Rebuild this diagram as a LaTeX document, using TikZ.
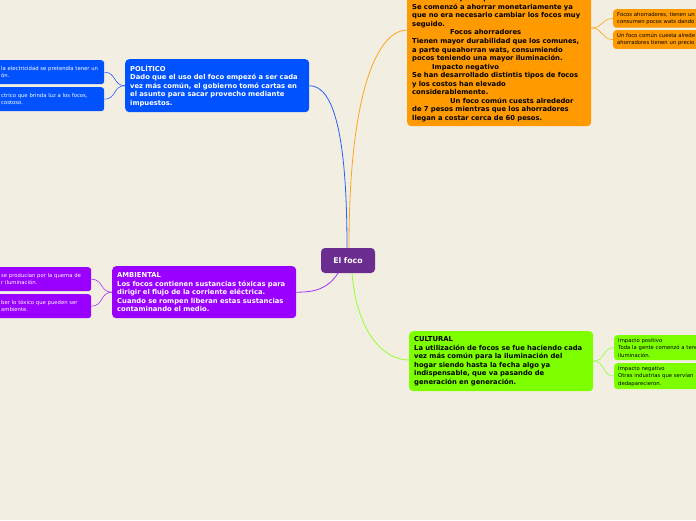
\documentclass[tikz,border=0pt]{standalone}
\usepackage{fontspec}
\setmainfont{DejaVu Sans}
\usetikzlibrary{calc}
\definecolor{Fondo}{HTML}{F2EFE2}
\definecolor{Centro}{HTML}{6B2D8F}
\definecolor{Azul}{HTML}{0052FF}
\definecolor{Morado}{HTML}{9A00FF}
\definecolor{Naranja}{HTML}{FF9A00}
\definecolor{Verde}{HTML}{7DFF00}
\definecolor{LineaAzul}{HTML}{2A5CFF}
\definecolor{LineaMorado}{HTML}{A531F5}
\definecolor{LineaNaranja}{HTML}{FFA41E}
\definecolor{LineaVerde}{HTML}{93FF2E}

\begin{document}
\begin{tikzpicture}[x=1pt,y=-1pt,
  tema/.style={rounded corners=4pt,anchor=north west,align=left,inner xsep=5pt,inner ysep=4pt,
    font=\bfseries\fontsize{6.8}{8.55}\selectfont},
  sub/.style={rounded corners=3pt,anchor=north west,align=left,inner xsep=4pt,inner ysep=3pt,
    font=\fontsize{5.3}{7.4}\selectfont,minimum height=24pt},
  rama/.style={line width=0.8pt},
  ramita/.style={line width=0.6pt}]
  \fill[Fondo] (0,0) rectangle (696,520);
  \clip (0,0) rectangle (696,520);
  % central
  \node[fill=Centro,text=white,rounded corners=4pt,minimum width=54pt,minimum height=25pt,
    font=\bfseries\fontsize{7.8}{9}\selectfont] (foco) at (348,260.5) {El foco};
  % politico
  \node[tema,fill=Azul,text=white,text width=174pt,minimum height=53pt] (pol) at (125,59)
    {POLÍTICO\\Dado que el uso del foco empezó a ser cada\\vez más común, el gobierno tomó cartas en\\el asunto para sacar provecho mediante\\impuestos.};
  \node[sub,fill=Azul,text=white,text width=99pt] (pol1) at (-3,60) {la electricidad se pretendía tener un\\ón.};
  \node[sub,fill=Azul,text=white,text width=99pt] (pol2) at (-3,87) {ctrico que brinda luz a los focos,\\costoso.};
  % ambiental
  \node[tema,fill=Morado,text=white,text width=174pt,minimum height=52pt] (amb) at (112,266)
    {AMBIENTAL\\Los focos contienen sustancias tóxicas para\\dirigir el flujo de la corriente eléctrica.\\Cuando se rompen liberan estas sustancias\\contaminando el medio.};
  \node[sub,fill=Morado,text=white,text width=86pt] (amb1) at (-3,267) {se producían por la quema de\\r iluminación.};
  \node[sub,fill=Morado,text=white,text width=86pt] (amb2) at (-3,294) {ber lo tóxico que pueden ser\\ambiente.};
  % economico
  \node[tema,fill=Naranja,text=black,text width=174pt,minimum height=135pt] (eco) at (407,-9)
    {\hspace*{38pt}Impacto positivo\\Se comenzó a ahorrar monetariamente ya\\que no era necesario cambiar los focos muy\\seguido.\\\hspace*{38pt}Focos ahorradores\\Tienen mayor durabilidad que los comunes,\\a parte queahorran wats, consumiendo\\pocos teniendo una mayor iluminación.\\\hspace*{20pt}Impacto negativo\\Se han desarrollado distintis tipos de focos\\y los costos han elevado\\considerablemente.\\\hspace*{38pt}Un foco común cuests alrededor\\de 7 pesos mientras que los ahorradores\\llegan a costar cerca de 60 pesos.};
  \node[sub,fill=Naranja,text=black,text width=120pt,minimum height=18pt] (eco1) at (613,9) {Focos ahorradores, tienen un\\consumen pocos wats dando};
  \node[sub,fill=Naranja,text=black,text width=120pt,minimum height=18pt] (eco2) at (613,30) {Un foco común cuesta alrede\\ahorradores tienen un precio};
  % cultural
  \node[tema,fill=Verde,text=black,text width=174pt,minimum height=60pt] (cul) at (409,331)
    {CULTURAL\\La utilización de focos se fue haciendo cada\\vez más común para la iluminación del\\hogar siendo hasta la fecha algo ya\\indispensable, que va pasando de\\generación en generación.};
  \node[sub,fill=Verde,text=black,text width=120pt] (cul1) at (614,335) {Impacto positivo\\Toda la gente comenzó a tener\\iluminación.};
  \node[sub,fill=Verde,text=black,text width=120pt] (cul2) at (614,363) {Impacto negativo\\Otras industrias que servían\\dedaparecieron.};
  % ramas
  \draw[rama,LineaAzul] ([xshift=-1pt]foco.north) .. controls +(0,-110) and +(25,0) .. (pol.east);
  \draw[rama,LineaNaranja] ([xshift=1pt]foco.north) .. controls +(0,-170) and +(-25,0) .. ($(eco.north west)+(0,39)$);
  \draw[rama,LineaMorado] ([xshift=-10pt]foco.south) .. controls +(-10,15) and +(20,0) .. (amb.east);
  \draw[rama,LineaVerde] ([xshift=4pt]foco.south) .. controls +(5,60) and +(-25,0) .. ($(cul.north west)+(0,29)$);
  \foreach \hijo in {pol1,pol2}
    \draw[ramita,LineaAzul] (pol.west) .. controls +(-12,0) and +(12,0) .. (\hijo.east);
  \foreach \hijo in {amb1,amb2}
    \draw[ramita,LineaMorado] (amb.west) .. controls +(-12,0) and +(12,0) .. (\hijo.east);
  \foreach \hijo in {eco1,eco2}
    \draw[ramita,LineaNaranja] ($(eco.north east)+(0,37)$) .. controls +(12,0) and +(-12,0) .. (\hijo.west);
  \foreach \hijo in {cul1,cul2}
    \draw[ramita,LineaVerde] (cul.east) .. controls +(12,0) and +(-12,0) .. (\hijo.west);
\end{tikzpicture}
\end{document}
